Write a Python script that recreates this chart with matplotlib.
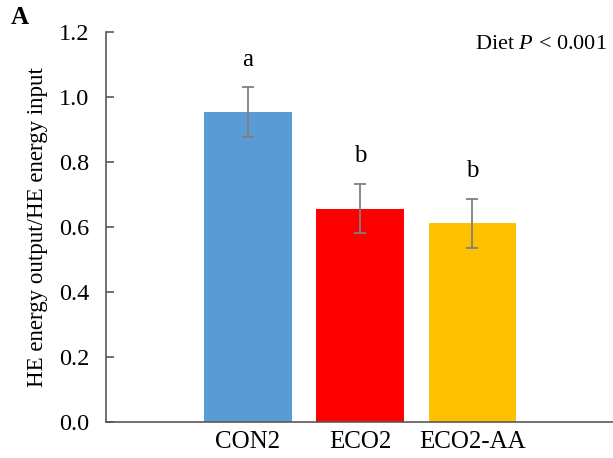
import matplotlib
matplotlib.use("Agg")
import matplotlib.pyplot as plt

# Data
categories = ["CON2", "ECO2", "ECO2-AA"]
means = [0.952, 0.656, 0.611]
errors = [0.077, 0.076, 0.076]
letters = ["a", "b", "b"]
colors = ["#5B9BD5", "#FF0000", "#FFC000"]
yticks = [0.0, 0.2, 0.4, 0.6, 0.8, 1.0, 1.2]

plt.rcParams["font.family"] = ["Liberation Serif", "DejaVu Serif"]
plt.rcParams["mathtext.fontset"] = "custom"
plt.rcParams["mathtext.rm"] = "Liberation Serif"
plt.rcParams["mathtext.it"] = "Liberation Serif:italic"

FS = 18

fig = plt.figure(figsize=(6.13, 4.58), dpi=100)
ax = fig.add_axes([0.173, 0.078, 0.827, 0.853])

x = list(range(len(categories)))
ax.bar(x, means, width=0.78, color=colors, zorder=2)
ax.errorbar(x, means, yerr=errors, fmt="none", ecolor="#7F7F7F",
            elinewidth=1.3, capsize=4, capthick=1.3, zorder=3)

for xi, m, e, lab in zip(x, means, errors, letters):
    ax.annotate(lab, (xi, m + e), xytext=(0, 12), textcoords="offset points",
                ha="center", va="bottom", fontsize=FS)

ax.set_xlim(-1.26, 3.25)
ax.set_ylim(0, 1.2)
ax.set_yticks(yticks)
ax.set_yticklabels([f"{t:.1f}" for t in yticks])
ax.set_xticks(x)
ax.set_xticklabels(categories)

for side in ("top", "right"):
    ax.spines[side].set_visible(False)
for side in ("left", "bottom"):
    ax.spines[side].set_color("#595959")
    ax.spines[side].set_linewidth(1.2)

ax.tick_params(axis="y", direction="in", length=6, width=1.2, color="#595959",
               labelsize=17.5, pad=12)
ax.tick_params(axis="x", length=0, labelsize=FS, pad=6)

ax.set_ylabel("HE energy output/HE energy input", fontsize=16.5, labelpad=8)

fig.text(0.990, 0.902, r"Diet $\it{P}$ < 0.001", ha="right", va="center",
         fontsize=16)
fig.text(0.018, 0.962, "A", ha="left", va="center", fontsize=18,
         fontweight="bold")

fig.savefig("out.png", dpi=100)
